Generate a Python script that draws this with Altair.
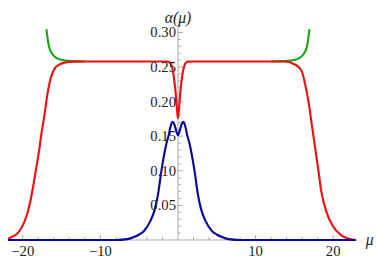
import altair as alt
import pandas as pd

# ---- data ----
red_mu = [-22.9, -21.87, -21.3, -20.61, -20.2, -19.76, -19.13, -18.71, -18.29, -17.87,
          -17.58, -17.24, -16.82, -16.39, -15.98, -15.35, -14.6, -13.5, -12.0, -6.0,
          -2.0, -1.3, -1.0, -0.8, -0.6, -0.45, -0.3, -0.15, 0.0, 0.15,
          0.3, 0.45, 0.6, 0.8, 1.0, 1.3, 2.0, 6.0, 12.0, 13.66,
          15.13, 15.96, 16.39, 16.81, 17.23, 17.65, 18.07, 18.49, 19.12, 19.96,
          21.0, 22.48, 22.9]
red_val = [0.0, 0.0018, 0.005, 0.0103, 0.017, 0.0269, 0.0504, 0.074, 0.1023, 0.1306,
           0.1547, 0.1777, 0.2108, 0.2343, 0.2462, 0.2533, 0.2565, 0.2578, 0.258, 0.258,
           0.258, 0.2578, 0.256, 0.251, 0.241, 0.229, 0.213, 0.192, 0.176, 0.192,
           0.213, 0.229, 0.241, 0.251, 0.256, 0.2578, 0.258, 0.258, 0.258, 0.258,
           0.2533, 0.2438, 0.225, 0.201, 0.168, 0.1355, 0.1023, 0.0693, 0.041, 0.0198,
           0.0071, 0.0008, 0.0]

blue_mu = [-22.9, -8.0, -6.5, -5.67, -5.0, -4.41, -3.58, -2.95, -2.52, -2.23,
           -1.89, -1.48, -1.2, -1.0, -0.72, -0.5, -0.3, -0.15, 0.0, 0.15,
           0.3, 0.5, 0.72, 1.0, 1.2, 1.48, 1.89, 2.23, 2.52, 2.95,
           3.58, 4.41, 5.0, 5.67, 6.5, 8.0, 22.9]
blue_val = [0.0, 0.0, 0.0012, 0.0042, 0.008, 0.0127, 0.0269, 0.0457, 0.0693, 0.0928,
            0.1165, 0.140, 0.151, 0.162, 0.1707, 0.168, 0.161, 0.155, 0.1518, 0.155,
            0.161, 0.168, 0.1707, 0.162, 0.151, 0.140, 0.1165, 0.0928, 0.0693, 0.0457,
            0.0269, 0.0127, 0.008, 0.0042, 0.0012, 0.0, 0.0]

green_left_mu = [-16.95, -16.82, -16.6, -16.19, -15.56, -14.5, -13.24, -12.0]
green_left_val = [0.305, 0.2933, 0.279, 0.2689, 0.2626, 0.2594, 0.2585, 0.258]
green_right_mu = [12.0, 13.24, 14.5, 15.56, 16.19, 16.6, 16.82, 16.94]
green_right_val = [0.258, 0.2585, 0.2594, 0.2626, 0.2689, 0.279, 0.2933, 0.305]

x_major = [-20, -10, 10, 20]
x_major_labels = ["\u221220", "\u221210", "10", "20"]
x_minor = [-22, -18, -16, -14, -12, -8, -6, -4, -2, 2, 4, 6, 8, 12, 14, 16, 18, 22]
y_major = [0.05, 0.10, 0.15, 0.20, 0.25, 0.30]
y_major_labels = ["0.05", "0.10", "0.15", "0.20", "0.25", "0.30"]
y_minor = [0.01, 0.02, 0.03, 0.04, 0.06, 0.07, 0.08, 0.09, 0.11, 0.12, 0.13, 0.14,
           0.16, 0.17, 0.18, 0.19, 0.21, 0.22, 0.23, 0.24, 0.26, 0.27, 0.28, 0.29, 0.31]

# ---- scales / layout ----
XMIN, XMAX = -21.90, 25.26
YMIN, YMAX = -0.02646, 0.3315
Y_AXIS_TOP = 0.31
X_AXIS_END = 23.1
MU_LABEL_X = 24.7
W, H = 374, 253

XS = alt.Scale(domain=[XMIN, XMAX], nice=False, zero=False)
YS = alt.Scale(domain=[YMIN, YMAX], nice=False, zero=False)

AX = "#a8a8a8"
TXT = "#222222"
FONT = "Liberation Serif"


def curve_df(mu, val, seg):
    return pd.DataFrame({"mu": mu, "val": val, "seg": seg})


red_df = curve_df(red_mu, red_val, "r")
blue_df = curve_df(blue_mu, blue_val, "b")
green_df = pd.concat([curve_df(green_left_mu, green_left_val, "gl"),
                      curve_df(green_right_mu, green_right_val, "gr")])


def X(f):
    return alt.X(f, type="quantitative", scale=XS, axis=None)


def Y(f):
    return alt.Y(f, type="quantitative", scale=YS, axis=None)


def line(df, color):
    return alt.Chart(df).mark_line(color=color, strokeWidth=2.2, interpolate="monotone").encode(
        x=X("mu"), y=Y("val"), detail="seg:N",
    )


# axis lines
x_axis = alt.Chart(pd.DataFrame({"x0": [XMIN], "x1": [X_AXIS_END], "y0": [0.0]})).mark_rule(
    color=AX, strokeWidth=1).encode(x=X("x0"), x2="x1", y=Y("y0"))
y_axis = alt.Chart(pd.DataFrame({"x0": [0.0], "y0": [0.0], "y1": [Y_AXIS_TOP]})).mark_rule(
    color=AX, strokeWidth=1).encode(x=X("x0"), y=Y("y0"), y2="y1")


def xticks(vals, length):
    df = pd.DataFrame({"t": vals, "z": [0.0] * len(vals)})
    return alt.Chart(df).mark_rule(color=AX, strokeWidth=1, y2Offset=-length).encode(
        x=X("t"), y=Y("z"), y2="z")


def yticks(vals, length):
    df = pd.DataFrame({"t": vals, "z": [0.0] * len(vals)})
    return alt.Chart(df).mark_rule(color=AX, strokeWidth=1, x2Offset=length).encode(
        y=Y("t"), x=X("z"), x2="z")


x_labels = alt.Chart(pd.DataFrame({"t": x_major, "lab": x_major_labels,
                                   "z": [0.0] * len(x_major)})).mark_text(
    font=FONT, fontSize=15, color=TXT, baseline="top", align="center", dy=4).encode(
    x=X("t"), y=Y("z"), text="lab:N")
y_labels = alt.Chart(pd.DataFrame({"t": y_major, "lab": y_major_labels,
                                   "z": [0.0] * len(y_major)})).mark_text(
    font=FONT, fontSize=15, color=TXT, baseline="middle", align="right", dx=-2).encode(
    y=Y("t"), x=X("z"), text="lab:N")

alpha_label = alt.Chart(pd.DataFrame({"lab": ["\u03b1(\u03bc)"], "x": [0.0], "y": [YMAX]})).mark_text(
    font=FONT, fontSize=16, fontStyle="italic", color=TXT, baseline="top", align="center").encode(
    x=X("x"), y=Y("y"), text="lab:N")
mu_label = alt.Chart(pd.DataFrame({"lab": ["\u03bc"], "x": [MU_LABEL_X], "y": [0.0]})).mark_text(
    font=FONT, fontSize=16, fontStyle="italic", color=TXT, baseline="middle", align="center").encode(
    x=X("x"), y=Y("y"), text="lab:N")

chart = alt.layer(
    x_axis, y_axis,
    xticks(x_minor, 3), xticks(x_major, 5),
    yticks(y_minor, 3), yticks(y_major, 5),
    line(green_df, "#1ea51e"),
    line(red_df, "#ee1111"),
    line(blue_df, "#0a0a9a"),
    x_labels, y_labels, alpha_label, mu_label,
).properties(
    width=W, height=H, padding=0, autosize=alt.AutoSizeParams(type="none"),
    background="white",
).configure_view(strokeWidth=0).configure_text(font=FONT)

chart.save("out.html", embed_options={"renderer": "svg", "actions": False})
